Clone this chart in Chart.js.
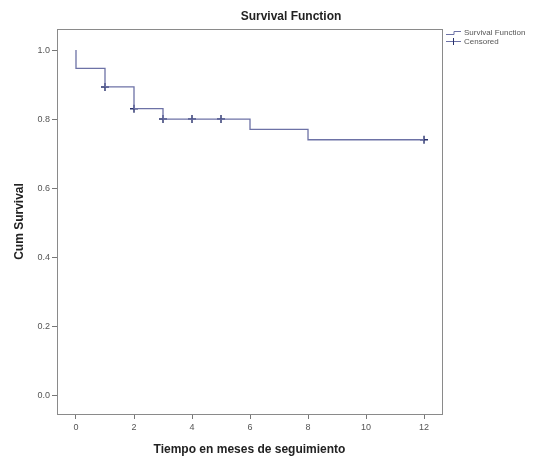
<!DOCTYPE html>
<html>
<head>
<meta charset="utf-8">
<script src="https://cdn.jsdelivr.net/npm/chart.js@4"></script>
<style>
  html, body { margin: 0; padding: 0; background: #fff; }
  #wrap { width: 541px; height: 460px; position: relative; }
</style>
</head>
<body>
<div id="wrap"><canvas id="surv-chart"></canvas></div>
<script>
// Tiempos y supervivencia acumulada
const stepTimes = [0, 0, 1, 2, 3, 6, 8, 12];
const stepSurvival = [1.0, 0.947, 0.893, 0.83, 0.80, 0.77, 0.74, 0.74];
const censorTimes = [1, 2, 3, 4, 5, 12];
const censorSurvival = [0.893, 0.83, 0.80, 0.80, 0.80, 0.74];
const xTicks = [0, 2, 4, 6, 8, 10, 12];
const yTicks = [0, 0.2, 0.4, 0.6, 0.8, 1.0];

const LINE_COLOR = '#6d72a6';
const CENSOR_COLOR = '#27306c';
const FONT = "'Liberation Sans', Arial, sans-serif";

// marco, título y leyenda a la derecha
const framePlugin = {
  id: 'frame',
  afterDraw(chart) {
    const ctx = chart.ctx;
    const a = chart.chartArea;
    ctx.save();
    ctx.strokeStyle = '#8a8a8a';
    ctx.lineWidth = 1;
    ctx.strokeRect(a.left + 0.5, a.top + 0.5, a.right - a.left, a.bottom - a.top);

    ctx.fillStyle = '#222';
    ctx.font = 'bold 12px ' + FONT;
    ctx.textAlign = 'center';
    ctx.textBaseline = 'middle';
    ctx.fillText('Survival Function', 291, 17);

    // leyenda
    const lx = 446;
    ctx.lineWidth = 1;
    ctx.strokeStyle = LINE_COLOR;
    ctx.beginPath();
    ctx.moveTo(lx, 34.5);
    ctx.lineTo(lx + 8, 34.5);
    ctx.lineTo(lx + 8, 31.5);
    ctx.lineTo(lx + 15, 31.5);
    ctx.stroke();
    ctx.beginPath();
    ctx.moveTo(lx, 41.5);
    ctx.lineTo(lx + 15, 41.5);
    ctx.stroke();
    ctx.strokeStyle = CENSOR_COLOR;
    ctx.beginPath();
    ctx.moveTo(lx + 7.5, 38);
    ctx.lineTo(lx + 7.5, 45);
    ctx.stroke();

    ctx.fillStyle = '#555';
    ctx.font = '8px ' + FONT;
    ctx.textAlign = 'left';
    ctx.fillText('Survival Function', 464, 33);
    ctx.fillText('Censored', 464, 42);
    ctx.restore();
  }
};

const ctx = document.getElementById('surv-chart').getContext('2d');

new Chart(ctx, {
  type: 'scatter',
  data: {
    datasets: [
      {
        label: 'Survival Function',
        data: stepTimes.map((t, i) => ({ x: t, y: stepSurvival[i] })),
        showLine: true,
        stepped: 'before',
        borderColor: LINE_COLOR,
        borderWidth: 1.3,
        pointRadius: 0,
        fill: false
      },
      {
        label: 'Censored',
        data: censorTimes.map((t, i) => ({ x: t, y: censorSurvival[i] })),
        showLine: false,
        pointStyle: 'cross',
        pointRadius: 4,
        borderColor: CENSOR_COLOR,
        borderWidth: 1.4
      }
    ]
  },
  options: {
    responsive: true,
    maintainAspectRatio: false,
    animation: false,
    layout: { padding: { left: 0, top: 29, right: 99, bottom: 0 } },
    plugins: {
      legend: { display: false },
      title: { display: false },
      tooltip: { enabled: false }
    },
    scales: {
      x: {
        type: 'linear',
        min: -0.655,
        max: 12.62,
        afterFit: s => { s.height = 46; },
        afterBuildTicks: s => { s.ticks = xTicks.map(v => ({ value: v })); },
        grid: { drawOnChartArea: false, tickLength: 5, color: '#777' },
        border: { color: '#777' },
        ticks: {
          color: '#555',
          font: { family: FONT, size: 9 },
          padding: 3,
          maxRotation: 0,
          callback: v => String(v)
        },
        title: {
          display: true,
          text: 'Tiempo en meses de seguimiento',
          color: '#222',
          font: { family: FONT, size: 12, weight: 'bold' },
          padding: { top: 0, bottom: 3 }
        }
      },
      y: {
        type: 'linear',
        min: -0.055,
        max: 1.061,
        afterFit: s => { s.width = 57; },
        afterBuildTicks: s => { s.ticks = yTicks.map(v => ({ value: v })); },
        grid: { drawOnChartArea: false, tickLength: 5, color: '#777' },
        border: { color: '#777' },
        ticks: {
          color: '#555',
          font: { family: FONT, size: 9 },
          padding: 2,
          callback: v => Number(v).toFixed(1)
        },
        title: {
          display: true,
          text: 'Cum Survival',
          color: '#222',
          font: { family: FONT, size: 12, weight: 'bold' },
          padding: { top: 12, bottom: 0 }
        }
      }
    }
  },
  plugins: [framePlugin]
});
</script>
</body>
</html>
